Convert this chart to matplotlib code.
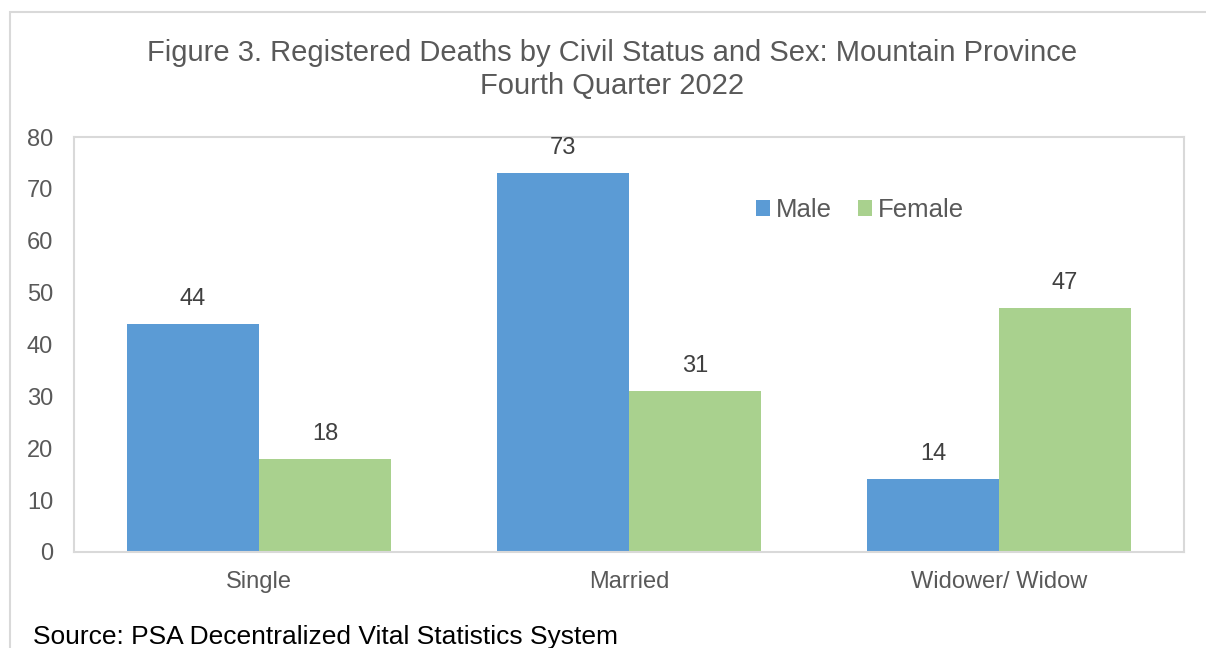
import matplotlib
matplotlib.use("Agg")
import matplotlib.pyplot as plt
from matplotlib.patches import Rectangle
import numpy as np

plt.rcParams["font.family"] = ["Liberation Sans", "DejaVu Sans"]

categories = ["Single", "Married", "Widower/ Widow"]
male = [44, 73, 14]
female = [18, 31, 47]
yticks = [0, 10, 20, 30, 40, 50, 60, 70, 80]

BLUE = "#5B9BD5"
GREEN = "#A9D18E"
GREY = "#595959"
LINE = "#d9d9d9"

fig = plt.figure(figsize=(12.06, 6.48), dpi=100)
ax = fig.add_axes([74 / 1206, 96 / 648, 1110 / 1206, 415 / 648])

# outer chart frame (right and bottom edges fall off the picture)
fig.patches.append(Rectangle((10 / 1206, -0.2), 1.2, 0.2 + 1 - 12 / 648,
                             transform=fig.transFigure, fill=False,
                             edgecolor=LINE, lw=1.5))

x = np.arange(len(categories))
w = 0.357
b1 = ax.bar(x - w / 2, male, w, color=BLUE, label="Male")
b2 = ax.bar(x + w / 2, female, w, color=GREEN, label="Female")

for bars in (b1, b2):
    for r in bars:
        ax.annotate(f"{r.get_height():.0f}",
                    xy=(r.get_x() + r.get_width() / 2, r.get_height()),
                    xytext=(0, 10), textcoords="offset points",
                    ha="center", va="bottom", fontsize=17, color="#404040")

ax.set_xlim(-0.5, 2.5)
ax.set_ylim(0, 80)
ax.set_yticks(yticks)
ax.set_xticks(x)
ax.set_xticklabels(categories)
ax.tick_params(length=0, labelsize=17, colors=GREY)
ax.tick_params(axis="x", pad=14)
ax.tick_params(axis="y", pad=15)
for s in ax.spines.values():
    s.set_color(LINE)
    s.set_linewidth(1.5)

ax.legend(loc="center", bbox_to_anchor=(860 / 1206, 1 - 210 / 648),
          bbox_transform=fig.transFigure, ncol=2, frameon=False,
          fontsize=18.5, labelcolor=GREY, handlelength=0.55, handleheight=0.55,
          handletextpad=0.25, columnspacing=1.0)

fig.text(612 / 1206, 1 - 53 / 648,
         "Figure 3. Registered Deaths by Civil Status and Sex: Mountain Province",
         ha="center", va="center", fontsize=21, color=GREY)
fig.text(612 / 1206, 1 - 86 / 648, "Fourth Quarter 2022",
         ha="center", va="center", fontsize=21, color=GREY)

fig.text(33 / 1206, 1 - 637 / 648, "Source: PSA Decentralized Vital Statistics System",
         ha="left", va="center", fontsize=19, color="black")

fig.savefig("out.png", dpi=100)
